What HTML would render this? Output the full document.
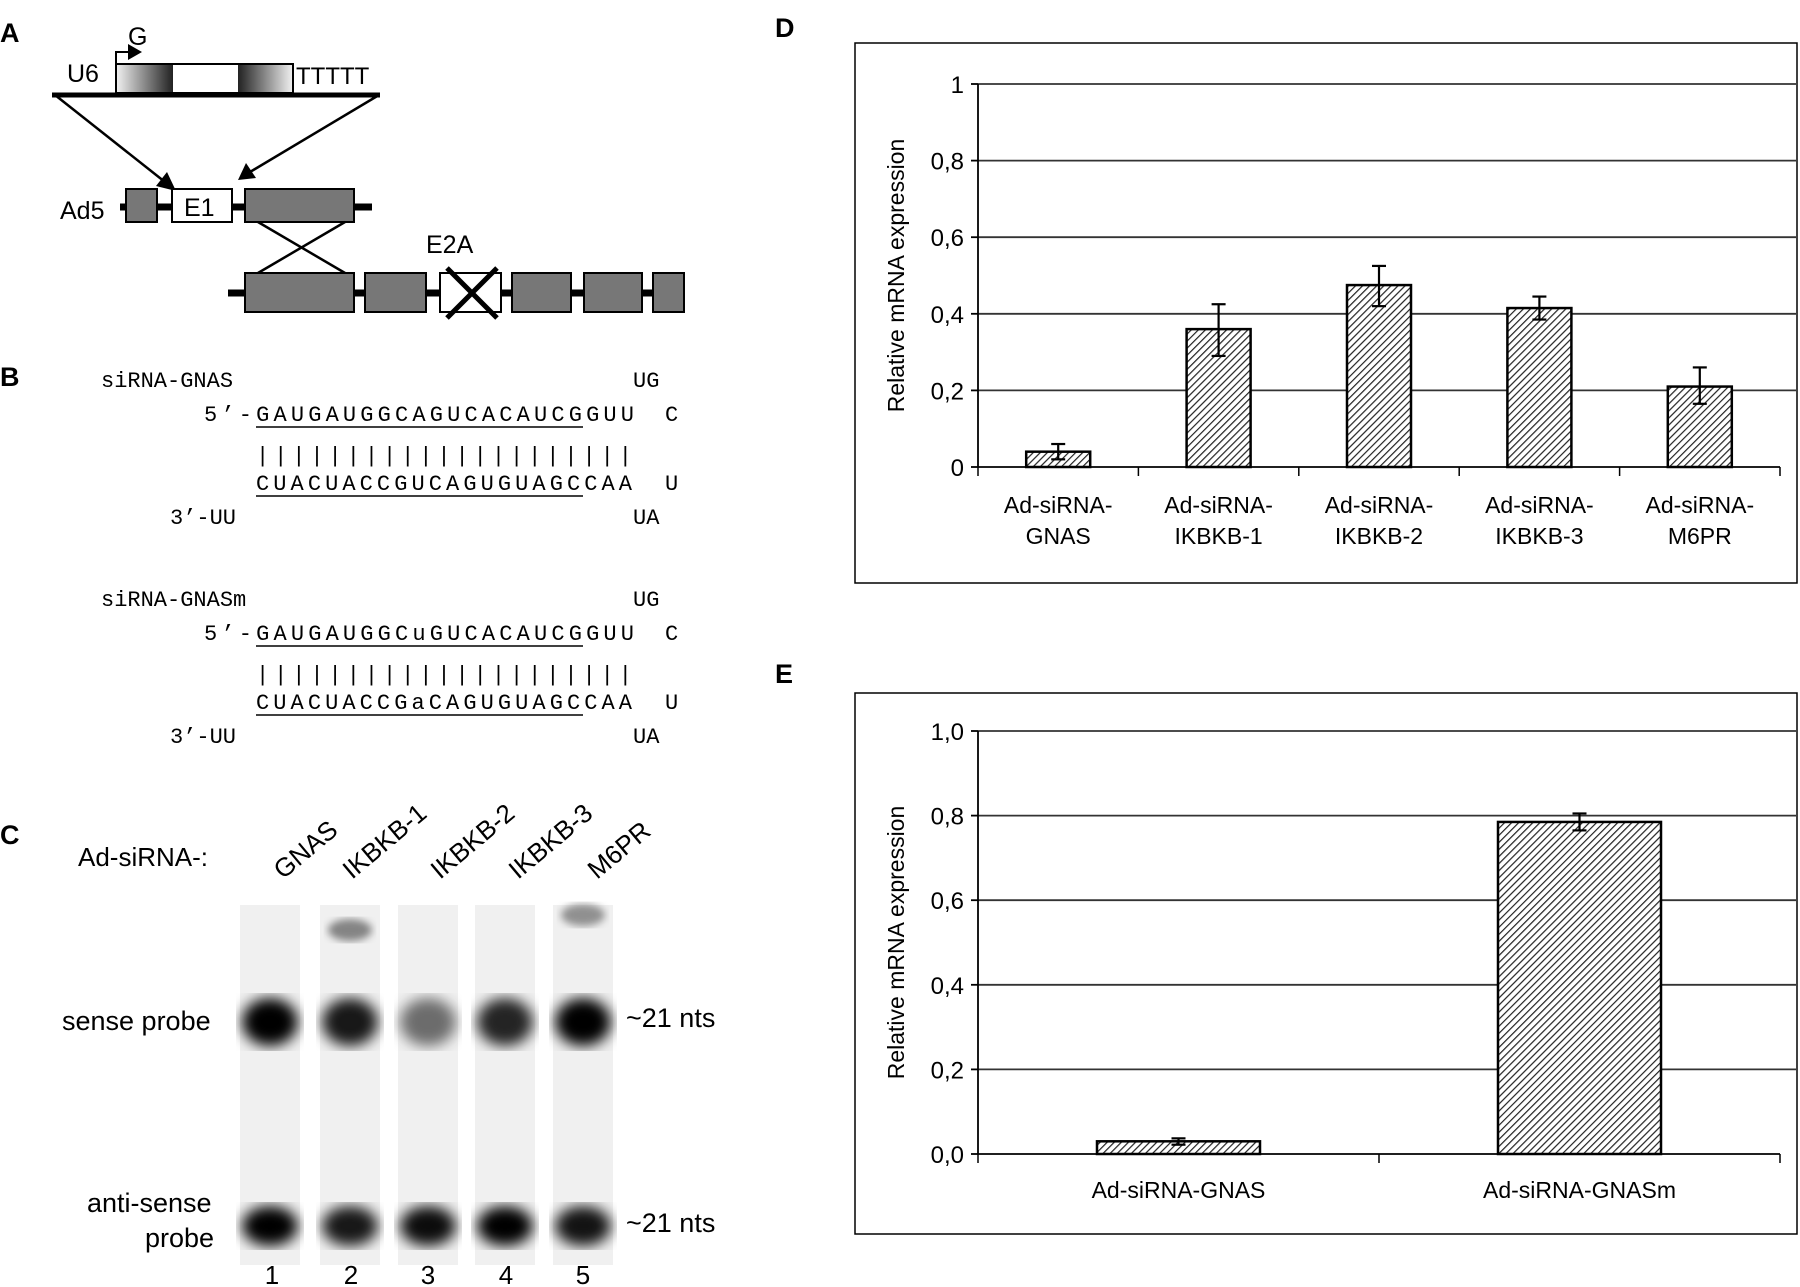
<!DOCTYPE html>
<html><head><meta charset="utf-8"><style>
body{margin:0;background:#fff;width:1800px;height:1287px;overflow:hidden}
svg{display:block}
.s{font-family:"Liberation Sans",sans-serif}
.m{font-family:"Liberation Mono",monospace;font-size:22px}
</style></head><body>
<svg id="fig" width="1800" height="1287" viewBox="0 0 1800 1287" xmlns="http://www.w3.org/2000/svg">
<defs>
<pattern id="hatch" width="5" height="5" patternUnits="userSpaceOnUse" patternTransform="rotate(45)"><rect width="5" height="5" fill="#fff"/><line x1="0" y1="0" x2="0" y2="5" stroke="#222" stroke-width="2.4"/></pattern>
<linearGradient id="gl" x1="0" x2="1"><stop offset="0" stop-color="#eee"/><stop offset="1" stop-color="#222"/></linearGradient>
<linearGradient id="gr" x1="0" x2="1"><stop offset="0" stop-color="#222"/><stop offset="1" stop-color="#eee"/></linearGradient>
<filter id="blur"><feGaussianBlur stdDeviation="7"/></filter>
<filter id="blur2"><feGaussianBlur stdDeviation="4"/></filter>
</defs>
<!-- Panel A -->
<g>
<text x="0" y="42" class="s" font-size="27" font-weight="bold">A</text>
<text x="67" y="82" class="s" font-size="25">U6</text>
<text x="128" y="45" class="s" font-size="25">G</text>
<path d="M116 64 V52 H130" stroke="#000" stroke-width="2" fill="none"/><path d="M128 44 L142 52 L128 60Z" fill="#000"/>
<rect x="116" y="64" width="177" height="29" fill="#fff" stroke="#000" stroke-width="2"/>
<rect x="117" y="65" width="56" height="27" fill="url(#gl)"/>
<rect x="238" y="65" width="54" height="27" fill="url(#gr)"/>
<text x="296" y="84" class="s" font-size="24">TTTTT</text>
<line x1="52" y1="95" x2="380" y2="95" stroke="#000" stroke-width="5"/>
<line x1="55" y1="95" x2="165" y2="182" stroke="#000" stroke-width="2.5"/><path d="M176 191 L156 186 L167 172Z" fill="#000"/>
<line x1="379" y1="95" x2="250" y2="172" stroke="#000" stroke-width="2.5"/><path d="M238 180 L246 163 L256 178Z" fill="#000"/>
<text x="60" y="219" class="s" font-size="25">Ad5</text>
<line x1="120" y1="207" x2="372" y2="207" stroke="#000" stroke-width="7"/>
<rect x="126" y="189" width="31" height="33" fill="#777" stroke="#000" stroke-width="2"/>
<rect x="172" y="189" width="60" height="33" fill="#fff" stroke="#000" stroke-width="2"/>
<text x="184" y="216" class="s" font-size="25">E1</text>
<rect x="245" y="189" width="109" height="33" fill="#777" stroke="#000" stroke-width="2"/>
<line x1="258" y1="222" x2="345" y2="273" stroke="#000" stroke-width="2.5"/><line x1="345" y1="222" x2="258" y2="273" stroke="#000" stroke-width="2.5"/>
<text x="426" y="253" class="s" font-size="25">E2A</text>
<line x1="228" y1="293" x2="684" y2="293" stroke="#000" stroke-width="7"/>
<rect x="245" y="273" width="109" height="39" fill="#777" stroke="#000" stroke-width="2"/>
<rect x="365" y="273" width="61" height="39" fill="#777" stroke="#000" stroke-width="2"/>
<rect x="440" y="273" width="61" height="39" fill="#fff" stroke="#000" stroke-width="2"/>
<line x1="447" y1="268" x2="497" y2="318" stroke="#000" stroke-width="5"/><line x1="497" y1="268" x2="447" y2="318" stroke="#000" stroke-width="5"/>
<rect x="512" y="273" width="59" height="39" fill="#777" stroke="#000" stroke-width="2"/>
<rect x="584" y="273" width="58" height="39" fill="#777" stroke="#000" stroke-width="2"/>
<rect x="653" y="273" width="31" height="39" fill="#777" stroke="#000" stroke-width="2"/>
</g>
<!-- Panel B -->
<g>
<text x="0" y="386" class="s" font-size="27" font-weight="bold">B</text>
<g>
<text x="101" y="387" class="m">siRNA-GNAS</text><text x="633" y="387" class="m">UG</text>
<text x="204" y="421" class="m" textLength="430">5’-GAUGAUGGCAGUCACAUCGGUU</text><text x="665" y="421" class="m">C</text>
<text x="256" y="462" class="m" textLength="376">|||||||||||||||||||||</text>
<text x="256" y="490" class="m" textLength="376">CUACUACCGUCAGUGUAGCCAA</text><text x="665" y="490" class="m">U</text>
<text x="170" y="524" class="m">3’-UU</text><text x="633" y="524" class="m">UA</text>
<line x1="256" y1="427" x2="583" y2="427" stroke="#000" stroke-width="1.5"/>
<line x1="256" y1="496" x2="583" y2="496" stroke="#000" stroke-width="1.5"/>
</g>
<g transform="translate(0,219)">
<text x="101" y="387" class="m">siRNA-GNASm</text><text x="633" y="387" class="m">UG</text>
<text x="204" y="421" class="m" textLength="430">5’-GAUGAUGGCuGUCACAUCGGUU</text><text x="665" y="421" class="m">C</text>
<text x="256" y="462" class="m" textLength="376">|||||||||||||||||||||</text>
<text x="256" y="490" class="m" textLength="376">CUACUACCGaCAGUGUAGCCAA</text><text x="665" y="490" class="m">U</text>
<text x="170" y="524" class="m">3’-UU</text><text x="633" y="524" class="m">UA</text>
<line x1="256" y1="427" x2="583" y2="427" stroke="#000" stroke-width="1.5"/>
<line x1="256" y1="496" x2="583" y2="496" stroke="#000" stroke-width="1.5"/>
</g>
</g>
<!-- Panel C -->
<g>
<text x="0" y="844" class="s" font-size="27" font-weight="bold">C</text>
<text x="78" y="866" class="s" font-size="26">Ad-siRNA-:</text>
<g class="s" font-size="26">
<text transform="translate(283,880) rotate(-40)">GNAS</text>
<text transform="translate(352,880) rotate(-40)">IKBKB-1</text>
<text transform="translate(440,880) rotate(-40)">IKBKB-2</text>
<text transform="translate(518,880) rotate(-40)">IKBKB-3</text>
<text transform="translate(597,880) rotate(-40)">M6PR</text>
</g>
<g id="gel"></g>
<text x="62" y="1030" class="s" font-size="27">sense probe</text>
<text x="87" y="1212" class="s" font-size="27">anti-sense</text>
<text x="145" y="1247" class="s" font-size="27">probe</text>
<text x="626" y="1027" class="s" font-size="27">~21 nts</text>
<text x="626" y="1232" class="s" font-size="27">~21 nts</text>
<g class="s" font-size="26" text-anchor="middle"><text x="272" y="1284">1</text><text x="351" y="1284">2</text><text x="428" y="1284">3</text><text x="506" y="1284">4</text><text x="583" y="1284">5</text></g>
</g>
<!-- Panel D -->
<text x="775" y="37" class="s" font-size="27" font-weight="bold">D</text>
<rect x="855" y="43" width="942" height="540" fill="none" stroke="#000" stroke-width="1.5"/>
<g id="chartD"></g>
<!-- Panel E -->
<text x="775" y="683" class="s" font-size="27" font-weight="bold">E</text>
<rect x="855" y="693" width="942" height="541" fill="none" stroke="#000" stroke-width="1.5"/>
<g id="chartE"></g>
</svg>
<script>
const NS="http://www.w3.org/2000/svg";
function mk(p,tag,a,txt){const e=document.createElementNS(NS,tag);for(const k in a)e.setAttribute(k,a[k]);if(txt!==undefined)e.textContent=txt;p.appendChild(e);return e;}

// Chart D data
const dCategories=[["Ad-siRNA-","GNAS"],["Ad-siRNA-","IKBKB-1"],["Ad-siRNA-","IKBKB-2"],["Ad-siRNA-","IKBKB-3"],["Ad-siRNA-","M6PR"]];
const dValues=[0.04,0.36,0.475,0.415,0.21];
const dErrHigh=[0.06,0.425,0.525,0.445,0.26];
const dErrLow=[0.02,0.29,0.42,0.385,0.165];
const dTicks=[0,0.2,0.4,0.6,0.8,1];
const dTickLabels=["0","0,2","0,4","0,6","0,8","1"];
// Chart E data
const eCategories=[["Ad-siRNA-GNAS"],["Ad-siRNA-GNASm"]];
const eValues=[0.03,0.785];
const eErrHigh=[0.037,0.805];
const eErrLow=[0.022,0.765];
const eTicks=[0,0.2,0.4,0.6,0.8,1.0];
const eTickLabels=["0,0","0,2","0,4","0,6","0,8","1,0"];

function chart(g,cfg,cats,vals,hi,lo,ticks,tl,pref){
  const y=v=>cfg.y0-(cfg.y0-cfg.y1)*v;
  const n=cats.length, step=(cfg.x1-cfg.x0)/n;
  const x=i=>cfg.x0+step*(i+0.5);
  ticks.forEach((t,i)=>{
    if(t>0){const l=mk(g,'line',{x1:cfg.x0,x2:cfg.gx,y1:y(t),y2:y(t),stroke:'#333','stroke-width':1.8});
    
    }
    mk(g,'line',{x1:cfg.x0-7,x2:cfg.x0,y1:y(t),y2:y(t),stroke:'#000','stroke-width':1.8});
    const tx=mk(g,'text',{x:cfg.x0-14,y:y(t)+9,'text-anchor':'end','font-size':24,class:'s'},tl[i]);
    
    
  });
  mk(g,'line',{x1:cfg.x0,x2:cfg.x0,y1:y(1),y2:y(0),stroke:'#000','stroke-width':1.8});
  mk(g,'line',{x1:cfg.x0,x2:cfg.x1,y1:y(0),y2:y(0),stroke:'#000','stroke-width':1.8});
  for(let i=0;i<=n;i++)mk(g,'line',{x1:cfg.x0+step*i,x2:cfg.x0+step*i,y1:y(0),y2:y(0)+9,stroke:'#000','stroke-width':1.5});
  const yt=mk(g,'text',{transform:`translate(${cfg.x0-74},${(y(0)+y(1))/2}) rotate(-90)`,'text-anchor':'middle','font-size':23,class:'s'},'Relative mRNA expression');
  
  
  cats.forEach((c,i)=>{
    const cx=x(i);
    const b=mk(g,'rect',{x:cx-cfg.bw/2,y:y(vals[i]),width:cfg.bw,height:y(0)-y(vals[i]),fill:'url(#hatch)',stroke:'#000','stroke-width':2.5});
    
    
    const e=mk(g,'g',{});
    
    
    mk(e,'line',{x1:cx,x2:cx,y1:y(hi[i]),y2:y(lo[i]),stroke:'#000','stroke-width':2.2});
    mk(e,'line',{x1:cx-7,x2:cx+7,y1:y(hi[i]),y2:y(hi[i]),stroke:'#000','stroke-width':2.2});
    mk(e,'line',{x1:cx-7,x2:cx+7,y1:y(lo[i]),y2:y(lo[i]),stroke:'#000','stroke-width':2.2});
    c.forEach((s,j)=>{
      const t=mk(g,'text',{x:cx,y:cfg.ly+j*31,'text-anchor':'middle','font-size':23,class:'s'},s);
      
      
    });
  });
}
chart(document.getElementById('chartD'),{x0:978,x1:1780,gx:1796,y0:467,y1:84,bw:64,ly:513},dCategories,dValues,dErrHigh,dErrLow,dTicks,dTickLabels,'d');
chart(document.getElementById('chartE'),{x0:978,x1:1780,gx:1796,y0:1154,y1:731,bw:163,ly:1198},eCategories,eValues,eErrHigh,eErrLow,eTicks,eTickLabels,'e');

// Gel
const gel=document.getElementById('gel');
const laneX=[270,350,428,505,583];
const senseDark=[1,0.9,0.55,0.85,1];
const antiDark=[1,0.9,0.95,1,0.92];
const upper=[0,0.45,0,0,0.4];
laneX.forEach((lx,i)=>{
  mk(gel,'rect',{x:lx-30,y:905,width:60,height:360,fill:'#f0f0f0'});
  const s=mk(gel,'ellipse',{cx:lx,cy:1022,rx:28,ry:24,fill:'#000','fill-opacity':senseDark[i],filter:'url(#blur)'});
  
  
  const a=mk(gel,'ellipse',{cx:lx,cy:1226,rx:28,ry:20,fill:'#000','fill-opacity':antiDark[i],filter:'url(#blur)'});
  
  
  if(upper[i])mk(gel,'ellipse',{cx:lx,cy:i==1?930:915,rx:22,ry:11,fill:'#000','fill-opacity':upper[i],filter:'url(#blur2)'});
});
</script>
</body></html>
